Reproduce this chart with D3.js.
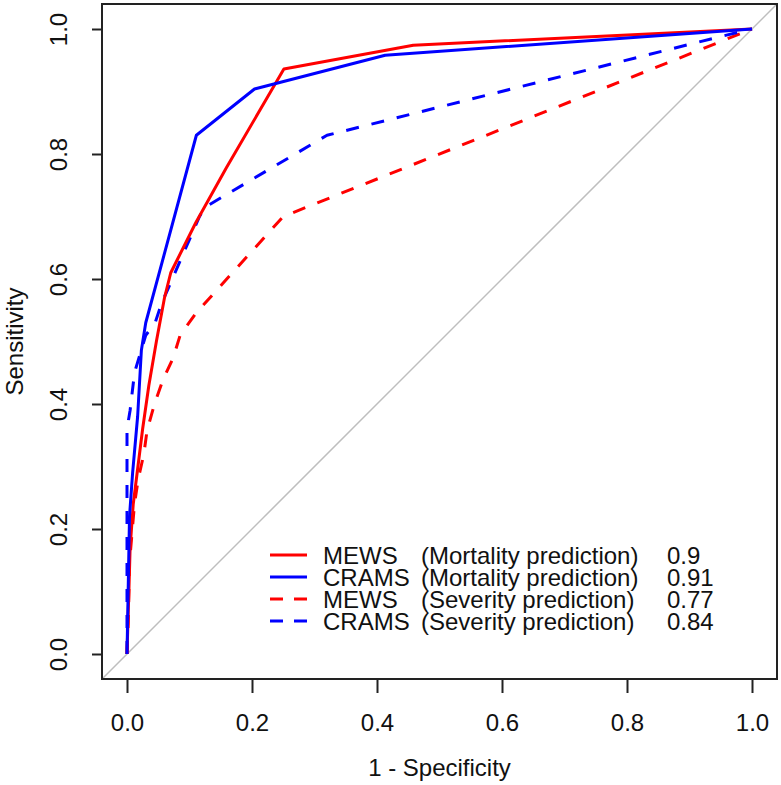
<!DOCTYPE html>
<html>
<head>
<meta charset="utf-8">
<script src="https://cdn.jsdelivr.net/npm/d3@7"></script>
<style>
  html, body { margin: 0; padding: 0; background: #fff; }
  svg { display: block; font-family: "Liberation Sans", Arial, sans-serif; }
</style>
</head>
<body>
<svg id="chart" width="781" height="785"></svg>
<script>
// ---- data (x = 1 - specificity, y = sensitivity) ----
const mewsMortX = [0, 0.003, 0.005, 0.010, 0.015, 0.025, 0.035, 0.047, 0.060, 0.070, 0.080, 0.110, 0.159, 0.251, 0.458, 1];
const mewsMortY = [0, 0.100, 0.170, 0.240, 0.280, 0.360, 0.430, 0.500, 0.570, 0.610, 0.630, 0.690, 0.778, 0.936, 0.974, 1];

const cramsMortX = [0, 0.004, 0.009, 0.017, 0.023, 0.030, 0.111, 0.204, 0.413, 1];
const cramsMortY = [0, 0.220, 0.290, 0.380, 0.486, 0.530, 0.830, 0.904, 0.958, 1];

const mewsSevX = [0, 0.002, 0.004, 0.012, 0.018, 0.027, 0.032, 0.044, 0.058, 0.074, 0.085, 0.110, 0.250, 0.950, 1];
const mewsSevY = [0, 0.050, 0.146, 0.240, 0.280, 0.320, 0.357, 0.400, 0.440, 0.474, 0.510, 0.545, 0.700, 0.980, 1];

const cramsSevX = [0, 0.000, 0.005, 0.012, 0.030, 0.045, 0.055, 0.116, 0.125, 0.320, 0.950, 1];
const cramsSevY = [0, 0.360, 0.390, 0.450, 0.510, 0.530, 0.560, 0.700, 0.715, 0.830, 0.988, 1];

const tickValues = [0, 0.2, 0.4, 0.6, 0.8, 1.0];
const tickLabels = ["0.0", "0.2", "0.4", "0.6", "0.8", "1.0"];

const legendNames = ["MEWS", "CRAMS", "MEWS", "CRAMS"];
const legendTasks = ["(Mortality prediction)", "(Mortality prediction)", "(Severity prediction)", "(Severity prediction)"];
const legendAUC = ["0.9", "0.91", "0.77", "0.84"];
const seriesColors = ["#ff0000", "#0000ff", "#ff0000", "#0000ff"];
const seriesDashed = [false, false, true, true];

const xLabel = "1 - Specificity";
const yLabel = "Sensitivity";

// ---- layout ----
const svg = d3.select("#chart");
const L = 102, R = 777, T = 4, B = 679;
const x = d3.scaleLinear().domain([-0.04, 1.04]).range([L, R]);
const y = d3.scaleLinear().domain([-0.04, 1.04]).range([B, T]);

const seriesData = [
  d3.zip(mewsMortX, mewsMortY),
  d3.zip(cramsMortX, cramsMortY),
  d3.zip(mewsSevX, mewsSevY),
  d3.zip(cramsSevX, cramsSevY)
];

// clip
svg.append("clipPath").attr("id", "plotclip")
  .append("rect").attr("x", L).attr("y", T).attr("width", R - L).attr("height", B - T);

const plot = svg.append("g").attr("clip-path", "url(#plotclip)");

// diagonal reference line
plot.append("line")
  .attr("x1", x(-0.04)).attr("y1", y(-0.04))
  .attr("x2", x(1.04)).attr("y2", y(1.04))
  .attr("stroke", "#bebebe").attr("stroke-width", 1.5);

const line = d3.line().x(d => x(d[0])).y(d => y(d[1]));

// draw dashed severity first, then solid
[2, 3, 0, 1].forEach(i => {
  plot.append("path")
    .datum(seriesData[i])
    .attr("d", line)
    .attr("fill", "none")
    .attr("stroke", seriesColors[i])
    .attr("stroke-width", 3)
    .attr("stroke-linejoin", "round")
    .attr("stroke-dasharray", seriesDashed[i] ? "13,13" : null);
});

// box
svg.append("rect")
  .attr("x", L).attr("y", T).attr("width", R - L).attr("height", B - T)
  .attr("fill", "none").attr("stroke", "#222").attr("stroke-width", 2);

// x axis
const xAxis = d3.axisBottom(x).tickValues(tickValues)
  .tickFormat((d, i) => tickLabels[i]).tickSize(14).tickPadding(0);
const gx = svg.append("g").attr("transform", `translate(0,${B})`).call(xAxis);
gx.select(".domain").remove();
gx.selectAll(".tick line").attr("stroke", "#222").attr("stroke-width", 2);
gx.selectAll(".tick text")
  .attr("y", 0).attr("dy", null)
  .attr("transform", "translate(0,52)")
  .attr("font-size", 24).attr("fill", "#111")
  .attr("font-family", "Liberation Sans, Arial, sans-serif");

// y axis
const yAxis = d3.axisLeft(y).tickValues(tickValues)
  .tickFormat((d, i) => tickLabels[i]).tickSize(10).tickPadding(0);
const gy = svg.append("g").attr("transform", `translate(${L},0)`).call(yAxis);
gy.select(".domain").remove();
gy.selectAll(".tick line").attr("stroke", "#222").attr("stroke-width", 2);
gy.selectAll(".tick text")
  .attr("x", 0).attr("dy", null)
  .attr("text-anchor", "middle")
  .attr("transform", `translate(${67 - L},0) rotate(-90)`)
  .attr("font-size", 24).attr("fill", "#111")
  .attr("font-family", "Liberation Sans, Arial, sans-serif");

// axis titles
svg.append("text")
  .attr("x", (x(0) + x(1)) / 2).attr("y", 776)
  .attr("text-anchor", "middle").attr("font-size", 24).attr("fill", "#111")
  .text(xLabel);
svg.append("text")
  .attr("transform", `translate(23,${(y(0) + y(1)) / 2}) rotate(-90)`)
  .attr("text-anchor", "middle").attr("font-size", 24).attr("fill", "#111")
  .text(yLabel);

// legend
const legY0 = 555, legDy = 22;
const leg = svg.append("g");
legendNames.forEach((name, i) => {
  const cy = legY0 + i * legDy;
  leg.append("line")
    .attr("x1", 270).attr("x2", 307).attr("y1", cy).attr("y2", cy)
    .attr("stroke", seriesColors[i]).attr("stroke-width", 3)
    .attr("stroke-dasharray", seriesDashed[i] ? "13,11" : null);
  leg.append("text").attr("x", 323).attr("y", cy + 8.5)
    .attr("font-size", 24).attr("fill", "#111").text(name);
  leg.append("text").attr("x", 421).attr("y", cy + 8.5)
    .attr("font-size", 24).attr("fill", "#111").text(legendTasks[i]);
  leg.append("text").attr("x", 667).attr("y", cy + 8.5)
    .attr("font-size", 24).attr("fill", "#111").text(legendAUC[i]);
});
</script>
</body>
</html>
